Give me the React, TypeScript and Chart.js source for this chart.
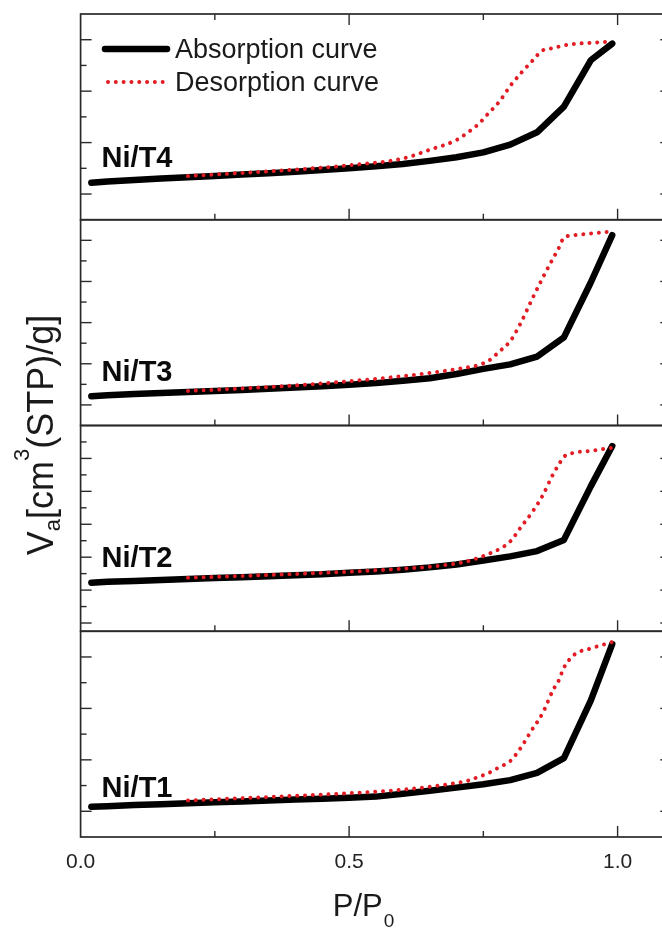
import React, { useEffect, useRef } from 'react';
import { Chart, registerables } from 'chart.js';

Chart.register(...registerables);

// ---------- data ----------
const absP = [0.02, 0.05, 0.1, 0.15, 0.2, 0.25, 0.3, 0.35, 0.4, 0.45, 0.5, 0.55, 0.6, 0.65, 0.7, 0.75, 0.8, 0.85, 0.9, 0.95, 0.99];
const desP = [0.2, 0.3, 0.4, 0.5, 0.6, 0.65, 0.7, 0.72, 0.74, 0.76, 0.78, 0.8, 0.82, 0.84, 0.86, 0.88, 0.89, 0.9, 0.92, 0.95, 0.99];

const absT1 = [0.18, 0.2, 0.24, 0.27, 0.31, 0.35, 0.38, 0.42, 0.46, 0.49, 0.53, 0.57, 0.68, 0.8, 0.92, 1.05, 1.21, 1.49, 2.07, 4.3, 6.5];
const desT1 = [0.42, 0.51, 0.6, 0.7, 0.84, 0.95, 1.1, 1.18, 1.33, 1.49, 1.72, 1.95, 2.48, 3.15, 3.8, 4.72, 5.07, 5.58, 6.1, 6.33, 6.58];

const absT2 = [2.45, 2.5, 2.56, 2.62, 2.68, 2.73, 2.78, 2.84, 2.9, 2.96, 3.05, 3.13, 3.24, 3.38, 3.56, 3.8, 4.05, 4.37, 5.05, 8.3, 10.75];
const desT2 = [2.75, 2.86, 2.98, 3.12, 3.3, 3.42, 3.62, 3.75, 3.95, 4.2, 4.5, 4.95, 5.83, 6.69, 7.72, 9.05, 9.6, 10.1, 10.35, 10.46, 10.65];

const absT3 = [0.42, 0.47, 0.53, 0.58, 0.63, 0.68, 0.73, 0.79, 0.85, 0.91, 0.98, 1.06, 1.17, 1.3, 1.5, 1.75, 1.97, 2.35, 3.28, 5.95, 8.25];
const desT3 = [0.68, 0.8, 0.95, 1.15, 1.4, 1.55, 1.74, 1.82, 1.93, 2.15, 2.6, 3.1, 4.0, 5.1, 6.15, 7.13, 7.6, 8.12, 8.25, 8.33, 8.43];

const absT4 = [0.44, 0.49, 0.55, 0.6, 0.65, 0.7, 0.76, 0.81, 0.87, 0.93, 1.0, 1.08, 1.17, 1.29, 1.43, 1.62, 1.92, 2.4, 3.4, 5.2, 5.85];
const desT4 = [0.7, 0.82, 0.95, 1.12, 1.38, 1.72, 2.1, 2.38, 2.7, 3.15, 3.6, 4.2, 4.7, 5.15, 5.58, 5.67, 5.73, 5.78, 5.84, 5.88, 5.93];

// panels from bottom (index 0) to top (index 3)
const panelLabels = ['Ni/T1', 'Ni/T2', 'Ni/T3', 'Ni/T4'];
const panelMin = [-1, -0.5, -1, -1];
const panelMax = [7, 12, 9, 7];
const absSeries = [absT1, absT2, absT3, absT4];
const desSeries = [desT1, desT2, desT3, desT4];

const xTickValues = [0.25, 0.5, 0.75, 1.0];
const xLabelValues = [0, 0.5, 1.0];
const legendLabels = ['Absorption curve', 'Desorption curve'];

// ---------- style ----------
const FONT = '"Liberation Sans", Arial, Helvetica, sans-serif';
const TEXT = '#1a1a1a';
const RED = 'rgb(226, 28, 36)';
const labelOffsets = [40, 64, 45, 53];
const W = 680;
const H = 929;

const drawPlugin = {
  id: 'panelDecor',
  afterDraw(chart: any) {
    const ctx: CanvasRenderingContext2D = chart.ctx;
    const area = chart.chartArea;
    const xs = chart.scales.x;
    ctx.save();
    const line = (x1: number, y1: number, x2: number, y2: number) => {
      ctx.beginPath();
      ctx.moveTo(x1, y1);
      ctx.lineTo(x2, y2);
      ctx.stroke();
    };
    const n = panelLabels.length;
    for (let k = 0; k < n; k++) {
      const ys = chart.scales['y' + k];
      const top = ys.getPixelForValue(panelMax[k]);
      const bottom = ys.getPixelForValue(panelMin[k]);
      ctx.strokeStyle = '#2a2a2a';
      ctx.lineWidth = 1.7;
      ctx.strokeRect(area.left, top, area.right - area.left, bottom - top);
      ctx.lineWidth = 1.4;
      for (let v = Math.ceil(panelMin[k]); v < panelMax[k]; v++) {
        if (v <= panelMin[k]) continue;
        const y = ys.getPixelForValue(v);
        const len = v % 2 === 0 ? 11 : 6;
        line(area.left, y, area.left + len, y);
        line(area.right, y, area.right - len, y);
      }
      xTickValues.forEach((t) => {
        const x = xs.getPixelForValue(t);
        const len = Math.abs(t * 2 - Math.round(t * 2)) < 1e-6 ? 11 : 6;
        line(x, bottom, x, bottom - len);
        if (k === n - 1) line(x, top, x, top + len);
      });
      ctx.fillStyle = '#0a0a0a';
      ctx.font = `bold 29px ${FONT}`;
      ctx.textBaseline = 'alphabetic';
      ctx.textAlign = 'left';
      ctx.fillText(panelLabels[k], area.left + 21, bottom - labelOffsets[k]);
    }

    // legend
    ctx.lineCap = 'round';
    ctx.strokeStyle = '#000';
    ctx.lineWidth = 6.5;
    line(105, 49, 167, 49);
    ctx.strokeStyle = RED;
    ctx.lineWidth = 4;
    ctx.setLineDash([0.01, 7.8]);
    line(108, 82, 164, 82);
    ctx.setLineDash([]);
    ctx.fillStyle = TEXT;
    ctx.font = `27px ${FONT}`;
    ctx.fillText(legendLabels[0], 175, 58);
    ctx.fillText(legendLabels[1], 175, 91);

    // x title P/P0
    const big = `31px ${FONT}`;
    const small = `19px ${FONT}`;
    ctx.font = big;
    const w1 = ctx.measureText('P/P').width;
    ctx.font = small;
    const w2 = ctx.measureText('0').width;
    const sx = 363 - (w1 + w2) / 2;
    ctx.font = big;
    ctx.fillText('P/P', sx, 916);
    ctx.font = small;
    ctx.fillText('0', sx + w1 + 1, 927);

    // y title
    const yBig = `36px ${FONT}`;
    const ySmall = `22px ${FONT}`;
    const parts: [string, string, number][] = [
      ['V', yBig, 0],
      ['a', ySmall, 7],
      ['[cm', yBig, 0],
      ['3', ySmall, -24],
      ['(STP)/g]', yBig, 0],
    ];
    let total = 0;
    const widths = parts.map(([t, f]) => {
      ctx.font = f;
      const w = ctx.measureText(t).width;
      total += w;
      return w;
    });
    ctx.translate(53, 435);
    ctx.rotate(-Math.PI / 2);
    let px = -total / 2;
    parts.forEach(([t, f, dy], i) => {
      ctx.font = f;
      ctx.fillText(t, px, dy);
      px += widths[i];
    });
    ctx.restore();
  },
};

export default function App() {
  const ref = useRef<HTMLCanvasElement | null>(null);
  useEffect(() => {
    if (!ref.current) return;
    const n = panelLabels.length;
    const scales: any = {
      x: {
        type: 'linear',
        min: 0,
        max: 1.1,
        grid: { display: false },
        border: { display: false },
        afterBuildTicks: (s: any) => {
          s.ticks = xLabelValues.map((v) => ({ value: v }));
        },
        ticks: {
          padding: 5,
          color: '#222',
          maxRotation: 0,
          autoSkip: false,
          font: { family: FONT, size: 21 },
          callback: (v: any) => Number(v).toFixed(1),
        },
        afterFit: (s: any) => {
          s.height = 92;
        },
      },
    };
    const datasets: any[] = [];
    for (let k = 0; k < n; k++) {
      const span = panelMax[k] - panelMin[k];
      scales['y' + k] = {
        type: 'linear',
        display: false,
        min: panelMin[k] - k * span,
        max: panelMax[k] + (n - 1 - k) * span,
      };
      datasets.push({
        label: legendLabels[0] + ' ' + panelLabels[k],
        data: absP.map((p, i) => ({ x: p, y: absSeries[k][i] })),
        yAxisID: 'y' + k,
        borderColor: '#000',
        backgroundColor: '#000',
        borderWidth: 6.5,
        pointRadius: 0,
        tension: 0,
        borderCapStyle: 'round',
        borderJoinStyle: 'round',
        order: 2,
      });
      datasets.push({
        label: legendLabels[1] + ' ' + panelLabels[k],
        data: desP.map((p, i) => ({ x: p, y: desSeries[k][i] })),
        yAxisID: 'y' + k,
        borderColor: RED,
        backgroundColor: RED,
        borderWidth: 4,
        borderDash: [0.01, 7.8],
        borderCapStyle: 'round',
        pointRadius: 0,
        cubicInterpolationMode: 'monotone',
        order: 1,
      });
    }
    const chart = new Chart(ref.current, {
      type: 'line',
      data: { datasets },
      options: {
        animation: false,
        responsive: false,
        devicePixelRatio: 1,
        layout: { padding: { left: 80.6, right: W - 671.3, top: 14, bottom: 0 } },
        plugins: { legend: { display: false }, tooltip: { enabled: false } },
        scales,
      },
      plugins: [drawPlugin],
    } as any);
    return () => chart.destroy();
  }, []);
  return (
    <div style={{ position: 'fixed', left: 0, top: 0, width: 662, height: 929, overflow: 'hidden', background: '#fff' }}>
      <canvas ref={ref} width={W} height={H} style={{ width: W, height: H, display: 'block' }} />
    </div>
  );
}
